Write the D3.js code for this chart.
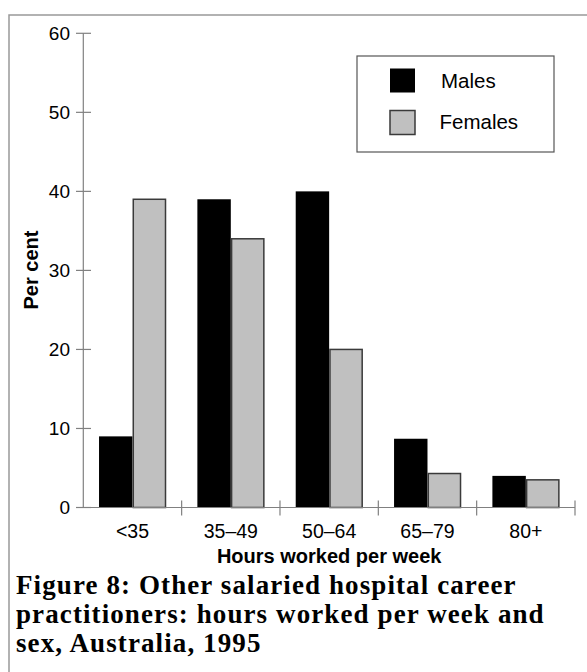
<!DOCTYPE html>
<html>
<head>
<meta charset="utf-8">
<script src="https://cdn.jsdelivr.net/npm/d3@7"></script>
<style>
  body { margin: 0; background: #fff; }
  text { font-family: "Liberation Sans", Arial, sans-serif; fill: #000; }
</style>
</head>
<body>
<svg class="chart" width="587" height="672"></svg>
<script>
const categories = ['<35', '35–49', '50–64', '65–79', '80+'];
const series = ['Males', 'Females'];
const males = [9, 39, 40, 8.7, 4];
const females = [39, 34, 20, 4.3, 3.5];
const yTicks = [0, 10, 20, 30, 40, 50, 60];
const captionLines = [
    'Figure 8: Other salaried hospital career',
    'practitioners: hours worked per week and',
    'sex, Australia, 1995'
];

const chart = d3.select('.chart');
const width = +chart.attr('width');
const height = +chart.attr('height');

const data = categories.map((c, i) => ({ cat: c, Males: males[i], Females: females[i] }));
const fills = { Males: '#000', Females: '#c0c0c0' };

// page frame (top and left edges only visible)
chart.append('path')
    .attr('d', `M9,${height} V15 H${width}`)
    .attr('fill', 'none')
    .attr('stroke', '#999')
    .attr('stroke-width', 1.5);

const x0 = 83.3, x1 = 575, yTop = 33.3, yBase = 507.5;

const xScale = d3.scaleBand()
    .domain(categories)
    .range([x0, x1])
    .paddingInner(0.32)
    .paddingOuter(0.16);

const xSub = d3.scaleBand()
    .domain(series)
    .range([0, xScale.bandwidth()]);

const yScale = d3.scaleLinear()
    .domain([0, 60])
    .range([yBase, yTop]);

const g = chart.append('g');

// bars
const groups = g.selectAll('.grp').data(data)
    .enter().append('g')
    .attr('class', 'grp')
    .attr('transform', d => `translate(${xScale(d.cat)},0)`);

groups.selectAll('rect')
    .data(d => series.map(s => ({ key: s, value: d[s] })))
    .enter().append('rect')
    .attr('x', d => xSub(d.key) + (d.key === 'Females' ? 0.8 : 0))
    .attr('y', d => yScale(d.value))
    .attr('width', d => xSub.bandwidth() - (d.key === 'Females' ? 1.2 : 0))
    .attr('height', d => yBase - yScale(d.value))
    .attr('fill', d => fills[d.key])
    .attr('stroke', d => d.key === 'Females' ? '#3a3a3a' : 'none')
    .attr('stroke-width', 1.5);

// y axis
g.append('line')
    .attr('x1', x0).attr('x2', x0)
    .attr('y1', yTop).attr('y2', yBase)
    .attr('stroke', '#808080').attr('stroke-width', 1.2);

g.selectAll('.ytick').data(yTicks)
    .enter().append('line')
    .attr('x1', 76).attr('x2', 91)
    .attr('y1', d => yScale(d)).attr('y2', d => yScale(d))
    .attr('stroke', '#808080').attr('stroke-width', 1.2);

g.selectAll('.ylab').data(yTicks)
    .enter().append('text')
    .attr('x', 70)
    .attr('y', d => yScale(d))
    .attr('dy', '0.36em')
    .attr('text-anchor', 'end')
    .style('font-size', '19px')
    .text(d => d);

// x axis
g.append('line')
    .attr('x1', x0).attr('x2', x1)
    .attr('y1', yBase).attr('y2', yBase)
    .attr('stroke', '#808080').attr('stroke-width', 1.2);

const step = xScale.step();
g.selectAll('.xtick').data(categories)
    .enter().append('line')
    .attr('x1', (d, i) => x0 + step * (i + 1))
    .attr('x2', (d, i) => x0 + step * (i + 1))
    .attr('y1', yBase - 7).attr('y2', yBase + 8)
    .attr('stroke', '#808080').attr('stroke-width', 1.2);

g.selectAll('.xlab').data(categories)
    .enter().append('text')
    .attr('x', d => xScale(d) + xScale.bandwidth() / 2)
    .attr('y', 537.5)
    .attr('text-anchor', 'middle')
    .style('font-size', '19.5px')
    .text(d => d);

g.append('text')
    .attr('x', (x0 + x1) / 2)
    .attr('y', 563)
    .attr('text-anchor', 'middle')
    .style('font-size', '20px')
    .style('font-weight', 'bold')
    .text('Hours worked per week');

g.append('text')
    .attr('transform', 'translate(38,270) rotate(-90)')
    .attr('text-anchor', 'middle')
    .style('font-size', '20px')
    .style('font-weight', 'bold')
    .text('Per cent');

// legend
const legend = chart.append('g');
legend.append('rect')
    .attr('x', 357).attr('y', 56)
    .attr('width', 197).attr('height', 96)
    .attr('fill', '#fff')
    .attr('stroke', '#555').attr('stroke-width', 1.2);

series.forEach((s, i) => {
    legend.append('rect')
        .attr('x', 390).attr('y', 68.5 + i * 42)
        .attr('width', 25).attr('height', 24)
        .attr('fill', fills[s])
        .attr('stroke', s === 'Females' ? '#3a3a3a' : 'none')
        .attr('stroke-width', 1.5);
    legend.append('text')
        .attr('x', 441 - i * 1.5).attr('y', 87.5 + i * 41)
        .style('font-size', '20.5px')
        .text(s);
});

// caption
chart.append('g').selectAll('text').data(captionLines)
    .enter().append('text')
    .attr('x', 16)
    .attr('y', (d, i) => 594 + i * 29)
    .style('font-family', '"Liberation Serif", "Times New Roman", serif')
    .style('font-size', '27px')
    .style('font-weight', 'bold')
    .style('letter-spacing', '1.1px')
    .text(d => d);
</script>
</body>
</html>
